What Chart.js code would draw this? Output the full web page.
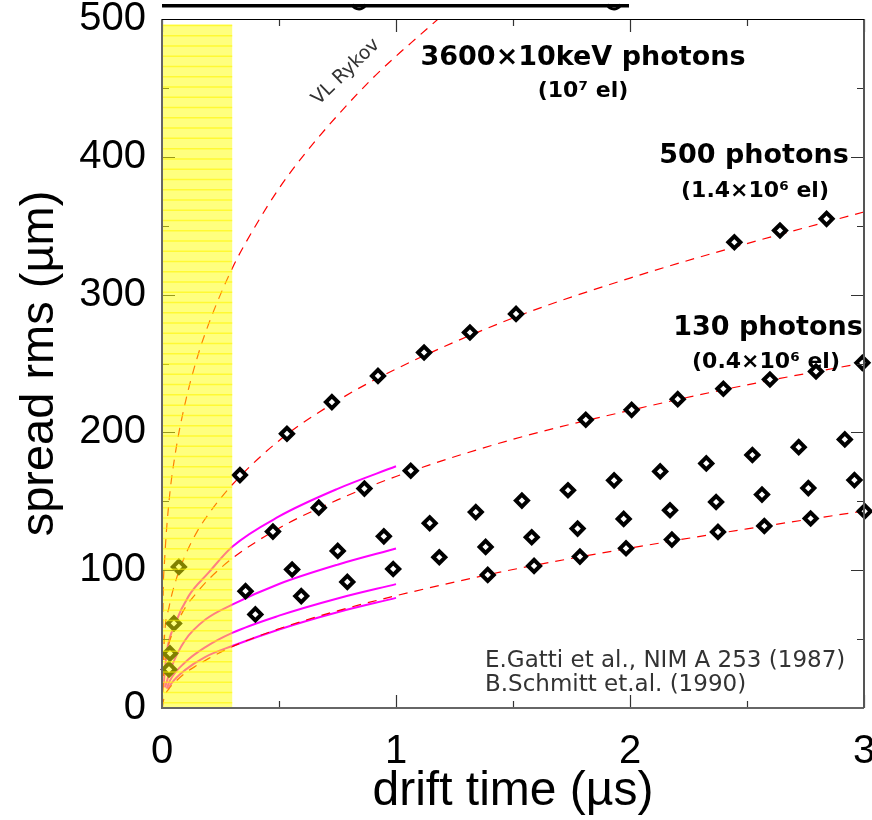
<!DOCTYPE html>
<html>
<head>
<meta charset="utf-8">
<script src="https://cdn.jsdelivr.net/npm/chart.js@4.4.1/dist/chart.umd.min.js"></script>
<style>
  html, body { margin: 0; padding: 0; background: #fff; }
</style>
</head>
<body>
<canvas id="spread" width="872" height="820"></canvas>
<script>
// measured points (drift time in us, spread rms in um)
const p500T = [0.333, 0.534, 0.726, 0.923, 1.12, 1.316, 1.513, 2.446, 2.641, 2.84];
const p500S = [169, 199, 222, 241, 258, 272.5, 286, 338, 346.5, 355];

const p130T = [0.474, 0.670, 0.865, 1.063, 1.811, 2.007, 2.204, 2.399, 2.598, 2.795, 2.993];
const p130S = [128, 145.4, 159.2, 172.2, 209.2, 216.4, 224.1, 231.7, 238.4, 244.2, 250.5];

const upperT = [0.357, 0.556, 0.751, 0.948, 1.144, 1.341, 1.538, 1.735, 1.932, 2.129, 2.326, 2.523, 2.721, 2.918];
const upperS = [84.8, 100.5, 114, 124.6, 134.1, 142.2, 150.5, 158, 165.2, 171.7, 177.5, 183.6, 189.3, 194.9];

const middleT = [0.399, 0.595, 0.792, 0.988, 1.185, 1.383, 1.580, 1.776, 1.973, 2.171, 2.368, 2.564, 2.762, 2.959];
const middleS = [67.9, 81.2, 91.5, 100.9, 109.4, 116.9, 123.9, 130.2, 137.2, 143.5, 149.5, 154.9, 159.6, 165.4];

const lowerT = [1.392, 1.590, 1.786, 1.983, 2.179, 2.376, 2.574, 2.772, 3.003];
const lowerS = [96.6, 103.1, 109.9, 115.9, 122.2, 127.8, 132.1, 137.5, 142.8];

const earlyT = [0.030, 0.034, 0.051, 0.072];
const earlyS = [28, 39.6, 61.4, 102.4];

// dashed fits
const fitT   = [0, 0.01, 0.03, 0.06, 0.1, 0.15, 0.2, 0.3, 0.5, 0.75, 1, 1.5, 2, 2.5, 3];
const fit500 = [0, 50, 73, 93, 111, 128, 141, 162, 194, 223, 246, 283, 312, 337, 360];
const fit130 = [0, 31, 47, 60, 73, 84, 93.5, 108.5, 130.5, 151, 168, 195, 216, 234.5, 250.5];
const fitLow = [0, 8, 14, 19.5, 25.5, 31, 36, 44.5, 57.5, 70.5, 81.5, 100.5, 116, 130, 143];

const rykovT = [0, 0.005, 0.01, 0.03, 0.06, 0.1, 0.15, 0.2, 0.3, 0.4, 0.5, 0.6, 0.75, 0.9, 1, 1.1, 1.18];
const rykovS = [0, 83, 104, 150, 188, 222, 254, 279, 319, 350, 377, 400, 430, 457, 473, 488, 500];

// simulated curves (solid magenta)
const sim1T = [0.006, 0.02, 0.056, 0.113, 0.198, 0.3, 0.5, 0.75, 1];
const sim1S = [15, 40, 61, 81, 98, 117, 139, 159, 175.4];
const sim2T = [0.013, 0.041, 0.098, 0.184, 0.3, 0.5, 0.75, 1];
const sim2S = [15, 30, 49, 64, 75, 90, 104, 115.7];
const sim3T = [0.02, 0.034, 0.098, 0.184, 0.3, 0.5, 0.75, 1];
const sim3S = [14, 20, 33, 44, 54.5, 67, 79.5, 89.9];
const sim4T = [0.027, 0.041, 0.098, 0.184, 0.3, 0.5, 0.75, 1];
const sim4S = [14, 18, 27.5, 37, 45, 57, 69.5, 79.9];

// shaded early-time band
const bandEnd = 0.3;
const bandTop = 496;

function pts(t, s) {
    return t.map(function (v, i) { return { x: v, y: s[i] }; });
}

function markers(t, s) {
    return {
        data: pts(t, s),
        showLine: false,
        pointStyle: "rectRot",
        pointRadius: 6,
        pointBorderWidth: 4,
        pointBorderColor: "#000",
        pointBackgroundColor: "#fff",
        clip: false,
        order: 0
    };
}

function dashed(t, s) {
    return {
        data: pts(t, s),
        showLine: true,
        borderColor: "#ff0000",
        borderWidth: 1.2,
        borderDash: [9, 7],
        pointRadius: 0,
        cubicInterpolationMode: "monotone",
        order: 1
    };
}

function solid(t, s) {
    return {
        data: pts(t, s),
        showLine: true,
        borderColor: "#ff00ff",
        borderWidth: 2,
        pointRadius: 0,
        cubicInterpolationMode: "monotone",
        order: 2
    };
}

const datasets = [
    markers(p500T, p500S),
    markers(p130T, p130S),
    markers(upperT, upperS),
    markers(middleT, middleS),
    markers(lowerT, lowerS),
    markers(earlyT, earlyS),
    dashed(fitT, fit500),
    dashed(fitT, fit130),
    dashed(fitT, fitLow),
    dashed(rykovT, rykovS),
    solid(sim1T, sim1S),
    solid(sim2T, sim2S),
    solid(sim3T, sim3S),
    solid(sim4T, sim4S)
];

const notes = [
    { text: "3600×10keV photons", x: 583, y: 65, size: 27, bold: true, align: "center" },
    { text: "(10⁷ el)", x: 583, y: 97, size: 22, bold: true, align: "center" },
    { text: "500 photons", x: 754, y: 163, size: 27, bold: true, align: "center" },
    { text: "(1.4×10⁶ el)", x: 755, y: 197, size: 22, bold: true, align: "center" },
    { text: "130 photons", x: 768, y: 335, size: 27, bold: true, align: "center" },
    { text: "(0.4×10⁶ el)", x: 766, y: 368, size: 22, bold: true, align: "center" },
    { text: "E.Gatti et al., NIM A 253 (1987)", x: 485, y: 667, size: 23, bold: false, align: "left", color: "#333" },
    { text: "B.Schmitt et.al. (1990)", x: 485, y: 691, size: 23, bold: false, align: "left", color: "#333" }
];

function noScalePadding(s) {
    s.paddingTop = 0;
    s.paddingBottom = 0;
    s.paddingLeft = 0;
    s.paddingRight = 0;
}

const decorations = {
    id: "decorations",
    afterDatasetsDraw: function (chart) {
        const ctx = chart.ctx;
        const xs = chart.scales.x, ys = chart.scales.y;
        const a = chart.chartArea;
        ctx.save();

        // inward ticks on all four sides
        ctx.strokeStyle = "#333";
        ctx.lineWidth = 1.2;
        for (let v = 0; v <= 3.001; v += 0.5) {
            const px = Math.round(xs.getPixelForValue(v)) + 0.5;
            const len = Math.abs(v - Math.round(v)) < 0.01 ? 13 : 7;
            ctx.beginPath();
            ctx.moveTo(px, a.bottom); ctx.lineTo(px, a.bottom - len);
            ctx.moveTo(px, a.top); ctx.lineTo(px, a.top + len);
            ctx.stroke();
        }
        for (let v = 0; v <= 500; v += 50) {
            const py = Math.round(ys.getPixelForValue(v)) + 0.5;
            const len = v % 100 === 0 ? 13 : 7;
            ctx.beginPath();
            ctx.moveTo(a.left, py); ctx.lineTo(a.left + len, py);
            ctx.moveTo(a.right, py); ctx.lineTo(a.right - len, py);
            ctx.stroke();
        }

        // frame
        ctx.lineWidth = 2;
        ctx.strokeStyle = "#666";
        ctx.beginPath();
        ctx.moveTo(a.left, a.top); ctx.lineTo(a.left, a.bottom); ctx.lineTo(a.right, a.bottom);
        ctx.stroke();
        ctx.strokeStyle = "#555";
        ctx.beginPath();
        ctx.moveTo(a.right, a.bottom); ctx.lineTo(a.right, a.top);
        ctx.stroke();
        ctx.lineWidth = 1;
        ctx.strokeStyle = "#000";
        ctx.beginPath();
        ctx.moveTo(a.left, a.top + 0.5); ctx.lineTo(a.right, a.top + 0.5);
        ctx.stroke();

        // translucent striped yellow band
        const bx0 = xs.getPixelForValue(0) + 1;
        const bx1 = xs.getPixelForValue(bandEnd);
        const by0 = ys.getPixelForValue(bandTop);
        const by1 = ys.getPixelForValue(0) - 1;
        ctx.fillStyle = "rgba(255,255,0,0.5)";
        ctx.fillRect(bx0, by0, bx1 - bx0, by1 - by0);
        ctx.strokeStyle = "rgba(255,245,0,0.6)";
        ctx.lineWidth = 1.5;
        for (let y = by0 + 1; y < by1; y += 10.26) {
            ctx.beginPath();
            ctx.moveTo(bx0, y); ctx.lineTo(bx1, y);
            ctx.stroke();
        }

        // underline of the cropped heading
        ctx.fillStyle = "#000";
        ctx.fillRect(a.left, 4, 467, 3.5);
        ctx.lineWidth = 3;
        ctx.strokeStyle = "#000";
        ctx.beginPath();
        ctx.arc(359, 2, 7, 0.1 * Math.PI, 0.9 * Math.PI);
        ctx.stroke();
        ctx.beginPath();
        ctx.arc(614, 2, 7, 0.1 * Math.PI, 0.9 * Math.PI);
        ctx.stroke();

        // annotations
        ctx.textBaseline = "alphabetic";
        notes.forEach(function (n) {
            ctx.font = (n.bold ? "bold " : "") + n.size + "px 'DejaVu Sans'";
            ctx.fillStyle = n.color || "#000";
            ctx.textAlign = n.align;
            ctx.fillText(n.text, n.x, n.y);
        });

        ctx.translate(346, 72);
        ctx.rotate(-44 * Math.PI / 180);
        ctx.font = "19px 'DejaVu Sans'";
        ctx.fillStyle = "#333";
        ctx.textAlign = "center";
        ctx.textBaseline = "middle";
        ctx.fillText("VL Rykov", 0, 0);
        ctx.restore();
    }
};

new Chart(document.getElementById("spread").getContext("2d"), {
    type: "scatter",
    data: { datasets: datasets },
    options: {
        responsive: false,
        animation: false,
        devicePixelRatio: 1,
        layout: { padding: { top: 19, right: 8, left: 0, bottom: 0 }, autoPadding: false },
        plugins: {
            legend: { display: false },
            tooltip: { enabled: false }
        },
        scales: {
            x: {
                type: "linear",
                min: 0,
                max: 3,
                grid: { display: false, drawTicks: false },
                border: { display: false },
                ticks: {
                    stepSize: 1,
                    maxRotation: 0,
                    padding: 20,
                    color: "#000",
                    font: { family: "'Liberation Sans'", size: 40 }
                },
                title: {
                    display: true,
                    text: "drift time (µs)",
                    color: "#000",
                    font: { family: "'Liberation Sans'", size: 48, lineHeight: 1 },
                    padding: { top: 4, bottom: 4 }
                },
                afterFit: function (s) { s.height = 112; noScalePadding(s); }
            },
            y: {
                min: 0,
                max: 500,
                grid: { display: false, drawTicks: false },
                border: { display: false },
                ticks: {
                    stepSize: 100,
                    padding: 16,
                    color: "#000",
                    font: { family: "'Liberation Sans'", size: 40 }
                },
                title: {
                    display: true,
                    text: "spread rms (µm)",
                    color: "#000",
                    font: { family: "'Liberation Sans'", size: 47, lineHeight: 1 },
                    padding: { top: 17, bottom: 17 }
                },
                afterFit: function (s) { s.width = 162; noScalePadding(s); }
            }
        }
    },
    plugins: [decorations]
});
</script>
</body>
</html>
